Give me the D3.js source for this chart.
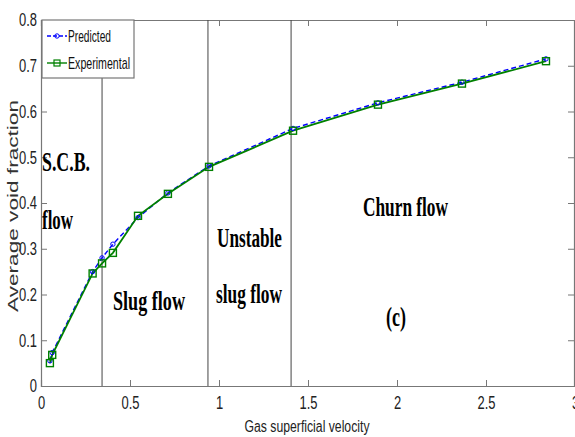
<!DOCTYPE html>
<html>
<head>
<meta charset="utf-8">
<script src="https://cdn.jsdelivr.net/npm/d3@7"></script>
<style>
  body { margin: 0; background: #fff; }
  svg { display: block; }
  .tick text { font-family: "Liberation Sans", Arial, sans-serif; }
  .regime { font-family: "Liberation Serif", "Times New Roman", serif; font-weight: bold; }
</style>
</head>
<body>
<svg id="chart" width="575" height="437"></svg>
<script>
// ── Data ──
const gasVelocity   = [0.05, 0.063, 0.29, 0.343, 0.404, 0.545, 0.713, 0.944, 1.416, 1.893, 2.365, 2.837];
const predicted     = [0.055, 0.073, 0.25, 0.28, 0.31, 0.368, 0.422, 0.481, 0.563, 0.619, 0.664, 0.715];
const experimental  = [0.05, 0.068, 0.246, 0.268, 0.291, 0.372, 0.42, 0.479, 0.558, 0.615, 0.661, 0.71];
const regimeBounds  = [0.343, 0.938, 1.405];
const xTicks = [0, 0.5, 1, 1.5, 2, 2.5, 3];
const yTicks = [0, 0.1, 0.2, 0.3, 0.4, 0.5, 0.6, 0.7, 0.8];

// ── Layout ──
const svg = d3.select('#chart');
const plotL = 41, plotR = 575, plotT = 20, plotB = 386;

const x = d3.scaleLinear().domain([0, 3]).range([plotL, plotR]);
const y = d3.scaleLinear().domain([0, 0.8]).range([plotB, plotT]);

// squeeze text horizontally — the reference font is tall and narrow
function squeeze(sel, k) {
    sel.each(function() {
        const w = this.getComputedTextLength();
        d3.select(this).attr('textLength', w * k).attr('lengthAdjust', 'spacingAndGlyphs');
    });
}

const frameColor = '#777';

// axes with inward ticks, mirrored on top/right
function styleAxis(g) {
    g.select('.domain').attr('stroke', frameColor).attr('stroke-width', 1.2);
    g.selectAll('.tick line').attr('stroke', frameColor);
}

const xAxis = svg.append('g').attr('transform', `translate(0,${plotB})`)
    .call(d3.axisBottom(x).tickValues(xTicks).tickSize(-6).tickPadding(10)
        .tickFormat(d => d === 0 ? '0' : String(d)));
xAxis.selectAll('.tick text').attr('font-size', 18).attr('fill', '#222');
styleAxis(xAxis);

const yAxis = svg.append('g').attr('transform', `translate(${plotL},0)`)
    .call(d3.axisLeft(y).tickValues(yTicks).tickSize(-6).tickPadding(4)
        .tickFormat(d => d === 0 ? '0' : d3.format('.1f')(d)));
yAxis.selectAll('.tick text').attr('font-size', 18).attr('fill', '#222');
styleAxis(yAxis);

const xTop = svg.append('g').attr('transform', `translate(0,${plotT})`)
    .call(d3.axisTop(x).tickValues(xTicks).tickSize(-6).tickFormat(''));
styleAxis(xTop);
const yRight = svg.append('g').attr('transform', `translate(${plotR - 1},0)`)
    .call(d3.axisRight(y).tickValues(yTicks).tickSize(-6).tickFormat(''));
styleAxis(yRight);

squeeze(xAxis.selectAll('.tick text'), 0.72);
squeeze(yAxis.selectAll('.tick text'), 0.72);

// ── Regime boundaries ──
svg.selectAll('.bound').data(regimeBounds).enter().append('line')
    .attr('x1', d => x(d)).attr('x2', d => x(d))
    .attr('y1', plotT).attr('y2', plotB)
    .attr('stroke', '#444').attr('stroke-width', 1);

// ── Series ──
const ptsPred = gasVelocity.map((v, i) => [v, predicted[i]]);
const ptsExp  = gasVelocity.map((v, i) => [v, experimental[i]]);
const line = d3.line().x(d => x(d[0])).y(d => y(d[1]));

svg.append('path').datum(ptsPred).attr('d', line)
    .attr('fill', 'none').attr('stroke', '#0000ff').attr('stroke-width', 1.4).attr('stroke-dasharray', '5,3');
svg.append('path').datum(ptsExp).attr('d', line)
    .attr('fill', 'none').attr('stroke', '#008000').attr('stroke-width', 1.8);

svg.selectAll('.pm').data(ptsPred).enter().append('circle')
    .attr('cx', d => x(d[0])).attr('cy', d => y(d[1])).attr('r', 2.2)
    .attr('fill', 'none').attr('stroke', '#0000ff').attr('stroke-width', 1);
svg.selectAll('.em').data(ptsExp).enter().append('rect')
    .attr('x', d => x(d[0]) - 3.5).attr('y', d => y(d[1]) - 3.5)
    .attr('width', 7).attr('height', 7)
    .attr('fill', 'none').attr('stroke', '#008000').attr('stroke-width', 1.4);

// ── Regime labels ──
const regimeLabels = [
    { t: 'S.C.B.',     x: 42,  y: 171, w: 48 },
    { t: 'flow',       x: 42,  y: 229, w: 31 },
    { t: 'Slug flow',  x: 113, y: 310, w: 72 },
    { t: 'Unstable',   x: 217, y: 247, w: 65 },
    { t: 'slug flow',  x: 216, y: 303, w: 66 },
    { t: 'Churn flow', x: 363, y: 216, w: 85 },
    { t: '(c)',        x: 386, y: 326, w: 20 }
];
svg.selectAll('.regime').data(regimeLabels).enter().append('text')
    .attr('class', 'regime')
    .attr('x', d => d.x).attr('y', d => d.y)
    .attr('font-size', 27).attr('fill', '#000')
    .attr('textLength', d => d.w).attr('lengthAdjust', 'spacingAndGlyphs')
    .text(d => d.t);

// ── Legend ──
const legend = svg.append('g');
legend.append('rect').attr('x', 42).attr('y', 20).attr('width', 92).attr('height', 58)
    .attr('fill', '#fff').attr('stroke', frameColor).attr('stroke-width', 1.2);
const legendItems = [
    { name: 'Predicted',    color: '#0000ff', dash: '4,2', cy: 36, w: 43 },
    { name: 'Experimental', color: '#008000', dash: null,  cy: 63, w: 62 }
];
legendItems.forEach(it => {
    legend.append('line').attr('x1', 47).attr('x2', 67).attr('y1', it.cy).attr('y2', it.cy)
        .attr('stroke', it.color).attr('stroke-width', 1.4).attr('stroke-dasharray', it.dash);
    if (it.dash) {
        legend.append('circle').attr('cx', 57).attr('cy', it.cy).attr('r', 2.2)
            .attr('fill', 'none').attr('stroke', it.color);
    } else {
        legend.append('rect').attr('x', 54).attr('y', it.cy - 3).attr('width', 6).attr('height', 6)
            .attr('fill', 'none').attr('stroke', it.color).attr('stroke-width', 1.2);
    }
    legend.append('text').attr('x', 68).attr('y', it.cy + 6)
        .attr('font-family', '"Liberation Sans", Arial, sans-serif').attr('font-size', 17).attr('fill', '#111')
        .attr('textLength', it.w).attr('lengthAdjust', 'spacingAndGlyphs')
        .text(it.name);
});

// ── Axis titles ──
svg.append('text').attr('transform', 'translate(18,206) rotate(-90)')
    .attr('text-anchor', 'middle')
    .attr('font-family', '"Liberation Sans", Arial, sans-serif').attr('font-size', 14).attr('fill', '#333')
    .attr('textLength', 212).attr('lengthAdjust', 'spacingAndGlyphs')
    .text('Average void fraction');
svg.append('text').attr('x', 307).attr('y', 432)
    .attr('text-anchor', 'middle')
    .attr('font-family', '"Liberation Sans", Arial, sans-serif').attr('font-size', 16).attr('fill', '#222')
    .attr('textLength', 125).attr('lengthAdjust', 'spacingAndGlyphs')
    .text('Gas superficial velocity');
</script>
</body>
</html>
